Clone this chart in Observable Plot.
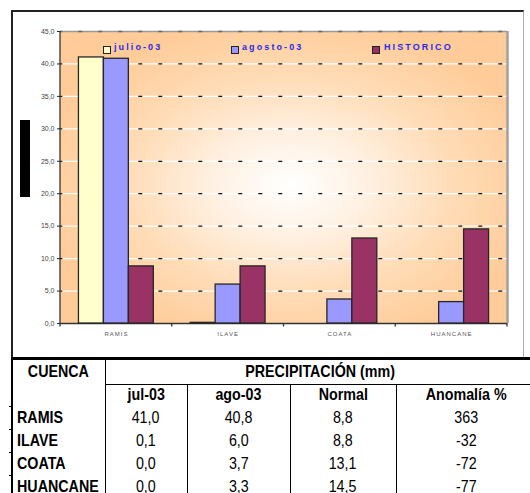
<!DOCTYPE html>
<html>
<head>
<meta charset="utf-8">
<script src="https://cdn.jsdelivr.net/npm/d3@7"></script>
<script src="https://cdn.jsdelivr.net/npm/@observablehq/plot@0.6"></script>
<style>
  html, body { margin: 0; padding: 0; background: #fff; }
  body { width: 530px; height: 493px; position: relative; overflow: hidden; font-family: "Liberation Sans", Arial, sans-serif; }
  .abs { position: absolute; }
  #box { left: 11px; top: 10px; width: 513px; height: 350px; border-left: 2px solid #222; border-top: 2px solid #222; border-right: 1.5px solid #aaa; box-sizing: border-box; }
  #bg { left: 60px; top: 31px; width: 447px; height: 292px;
        background: radial-gradient(ellipse 250px 165px at 230px 154px, #ffffff 0%, #fff1e3 30%, #ffdcb7 65%, #ffcc99 100%); }
  .plotwrap { width: 530px; height: 360px; }
  .plotwrap svg { position: absolute; left: 0; top: 0; max-width: none; }
  .leg { position: absolute; font: bold 9px "Liberation Sans", Arial, sans-serif; letter-spacing: 2.1px; color: #2a2ae6; white-space: nowrap; }
  .sw { position: absolute; width: 6px; height: 6px; border: 1.5px solid #222; }
  #blk { left: 20px; top: 120px; width: 10px; height: 77px; background: #000; }
  .tb { position: absolute; font-family: "Liberation Sans", Arial, sans-serif; font-size: 17px; color: #000; white-space: nowrap; }
  .tb span { display: inline-block; transform: scaleX(0.84); }
  .ln { position: absolute; background: #000; }
</style>
</head>
<body>
<div id="box" class="abs"></div>
<div id="bg" class="abs"></div>
<div id="blk" class="abs"></div>
<div id="plotA" class="plotwrap abs" style="left:0;top:0;"></div>
<div id="plotB" class="plotwrap abs" style="left:0;top:0;"></div>
<div id="legend"></div>
<div id="table"></div>
<script>
// ---- data ----
const categories = ["RAMIS", "ILAVE", "COATA", "HUANCANE"];
const seriesNames = ["julio-03", "agosto-03", "HISTORICO"];
const julio = [41.0, 0.1, 0.0, 0.0];
const agosto = [40.8, 6.0, 3.7, 3.3];
const historico = [8.8, 8.8, 13.1, 14.5];
const anomalia = [363, -32, -72, -77];
const seriesColors = ["#FFFFCC", "#9999FF", "#993366"];
const yTicks = [0, 5, 10, 15, 20, 25, 30, 35, 40, 45];
const gridValues = [5, 10, 15, 20, 25, 30, 35, 40];
const tableTitle = "PRECIPITACIÓN (mm)";
const tableFirstHeader = "CUENCA";
const tableColHeaders = ["jul-03", "ago-03", "Normal", "Anomalía %"];

const seriesValues = [julio, agosto, historico];
const rows = [];
categories.forEach((c, i) => seriesNames.forEach((s, j) => rows.push({cat: c, series: s, value: seriesValues[j][i]})));

const comma = d => d.toFixed(1).replace(".", ",");
const W = 530, H = 360, mL = 60, mR = 23, mT = 31, mB = 37;

// ---- background plot: grid, axes ----
const plotA = Plot.plot({
  width: W, height: H, marginLeft: mL, marginRight: mR, marginTop: mT, marginBottom: mB,
  style: {background: "transparent", fontSize: "7px", fontFamily: "Liberation Sans, Arial, sans-serif", color: "#444", overflow: "visible"},
  x: {type: "band", domain: categories, padding: 0, round: false, tickSize: 0, tickPadding: 8, label: null},
  y: {domain: [0, 45], ticks: yTicks, tickFormat: comma, tickSize: 3, tickPadding: 3, label: null},
  marks: [
    Plot.ruleY(gridValues, {stroke: "#ffffff", strokeWidth: 1.3}),
    Plot.ruleY(gridValues, {stroke: "#111", strokeWidth: 1.3, strokeDasharray: "4,16", strokeDashoffset: 1.7}),
    Plot.ruleY([45], {stroke: "#999", strokeWidth: 1.5}),
    Plot.ruleY([45], {stroke: "#666", strokeWidth: 1.5, strokeDasharray: "4,16", strokeDashoffset: 1.7}),
    Plot.ruleY([0], {stroke: "#333", strokeWidth: 1.3})
  ]
});
document.getElementById("plotA").appendChild(plotA);

// axis styling + frame edges + category boundary ticks
{
  const svg = d3.select(plotA);
  svg.selectAll('g[aria-label^="x-axis"] text').style("font-size", "6px").style("letter-spacing", "1px").attr("fill", "#555");
  svg.selectAll('g[aria-label^="y-axis"] text').attr("fill", "#444");
  svg.selectAll('g[aria-label^="y-axis"] line, g[aria-label^="y-axis"] path').attr("stroke", "#222");
  const sx = plotA.scale("x");
  const sy = plotA.scale("y");
  const y0 = sy.apply ? sy.apply(0) : sy.range[0];
  const y45 = sy.apply ? sy.apply(45) : sy.range[1];
  const starts = categories.map((c, i) => sx.apply ? sx.apply(c) : sx.range[0] + i * sx.step);
  const bounds = starts.concat([starts[starts.length - 1] + sx.bandwidth]);
  svg.append("g").selectAll("line").data(bounds).join("line")
    .attr("x1", d => d).attr("x2", d => d).attr("y1", y0).attr("y2", y0 + 3.5)
    .attr("stroke", "#333").attr("stroke-width", 1.3);
  svg.append("line").attr("x1", bounds[0]).attr("x2", bounds[0]).attr("y1", y45).attr("y2", y0)
    .attr("stroke", "#333").attr("stroke-width", 1.3);
  svg.append("line").attr("x1", bounds[4] + 0.5).attr("x2", bounds[4] + 0.5).attr("y1", y45).attr("y2", y0)
    .attr("stroke", "#a0a0a0").attr("stroke-width", 2.5);
}

// ---- foreground plot: grouped bars via facets ----
const plotB = Plot.plot({
  width: W, height: H, marginLeft: mL, marginRight: mR, marginTop: mT, marginBottom: mB,
  style: {background: "transparent", overflow: "visible"},
  facet: {data: rows, x: "cat"},
  fx: {domain: categories, paddingInner: 0.33, paddingOuter: 0.165, round: false, axis: null, label: null},
  x: {domain: seriesNames, padding: 0, round: false, axis: null, label: null},
  y: {domain: [0, 45], axis: null, label: null},
  color: {domain: seriesNames, range: seriesColors},
  marks: [
    Plot.barY(rows, {x: "series", y: "value", fill: "series", stroke: "#262626", strokeWidth: 1.3})
  ]
});
document.getElementById("plotB").appendChild(plotB);

// ---- legend ----
{
  const leg = document.getElementById("legend");
  const pos = [[103, 114], [231, 242], [372, 384]];
  seriesNames.forEach((s, i) => {
    const sw = document.createElement("div");
    sw.className = "sw";
    sw.style.left = pos[i][0] + "px"; sw.style.top = "45.5px"; sw.style.background = seriesColors[i];
    leg.appendChild(sw);
    const t = document.createElement("div");
    t.className = "leg"; t.textContent = s;
    t.style.left = pos[i][1] + "px"; t.style.top = "42px";
    leg.appendChild(t);
  });
}

// ---- table ----
{
  const tb = document.getElementById("table");
  const colX = [12, 105, 187, 290, 396, 536];
  const rowY = [359, 384, 406, 429, 452, 475, 499];
  const add = (cls, css) => { const d = document.createElement("div"); d.className = cls; Object.assign(d.style, css); tb.appendChild(d); return d; };
  const line = (x, y, w, h) => add("ln", {left: x + "px", top: y + "px", width: w + "px", height: h + "px"});
  const cell = (txt, x0, x1, y0, y1, bold, align) => {
    const left = align === "left";
    const d = add("tb", {
      left: (left ? x0 + 5 : x0) + "px", top: y0 + "px", width: (left ? (x1 - x0 - 5) : (x1 - x0)) + "px",
      height: (y1 - y0) + "px", lineHeight: (y1 - y0) + "px", textAlign: align || "center", fontWeight: bold ? "bold" : "normal"
    });
    const s = document.createElement("span");
    s.textContent = txt;
    s.style.transformOrigin = left ? "left center" : "center center";
    d.appendChild(s);
  };
  line(11, 357, 530, 2.5);
  line(11, 357, 2, 140);
  line(104.5, 357, 1.5, 140);
  line(105, rowY[1], 430, 1.2);
  [colX[2], colX[3], colX[4]].forEach(x => line(x - 0.5, rowY[1], 1.2, 120));
  [rowY[2], rowY[3], rowY[4], rowY[5]].forEach(y => line(9, y, 4, 1));
  cell(tableFirstHeader, colX[0], colX[1], rowY[0], rowY[1], true);
  cell(tableTitle, colX[1], colX[5], rowY[0], rowY[1], true);
  tableColHeaders.forEach((h, i) => cell(h, colX[i + 1], colX[i + 2], rowY[1], rowY[2], true));
  categories.forEach((c, r) => {
    const y0 = rowY[r + 2], y1 = rowY[r + 3];
    cell(c, colX[0], colX[1], y0, y1, true, "left");
    cell(comma(julio[r]), colX[1], colX[2], y0, y1, false);
    cell(comma(agosto[r]), colX[2], colX[3], y0, y1, false);
    cell(comma(historico[r]), colX[3], colX[4], y0, y1, false);
    cell(String(anomalia[r]), colX[4], colX[5], y0, y1, false);
  });
}
</script>
</body>
</html>
